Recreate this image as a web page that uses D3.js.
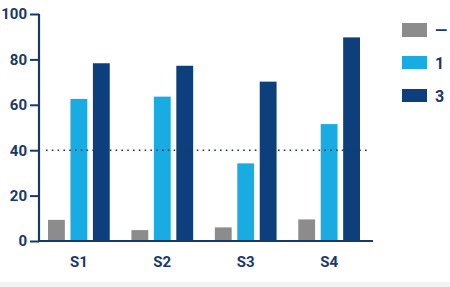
<!DOCTYPE html>
<html><head><meta charset="utf-8">
<script src="https://cdn.jsdelivr.net/npm/d3@7"></script>
<style>
html,body{margin:0;padding:0;background:#fff;overflow:hidden;}
svg{display:block;font-family:Roboto, "Noto Sans", sans-serif;}
</style></head>
<body>
<svg id="c" width="450" height="287"></svg>
<script>
const categories = ["S1","S2","S3","S4"];
const seriesNames = ["—","1","3"];
const seriesGray = [9.3, 4.8, 6.0, 9.5];
const seriesLight = [62.6, 63.6, 34.2, 51.5];
const seriesDark = [78.3, 77.2, 70.2, 89.7];
const yTicks = [0,20,40,60,80,100];
const refValue = 40;
const colors = ["#8c8c8c","#19ace3","#0c3f7c"];
const axisColor = "#17396b";

const series = [seriesGray, seriesLight, seriesDark];
const svg = d3.select("#c");
svg.append("rect").attr("x",0).attr("y",282).attr("width",450).attr("height",5).attr("fill","#f3f3f5");

const x0 = 39, x1 = 373, yTop = 14, yBot = 241;
const y = d3.scaleLinear().domain([0,100]).range([yBot,yTop]);
const xb = d3.scaleBand().domain(categories).range([x0,369]).paddingInner(0.26).paddingOuter(0.108);
const xs = d3.scaleBand().domain(d3.range(3)).range([0,xb.bandwidth()]).paddingInner(0.25);

// bars
series.forEach((vals,si)=>{
  svg.append("g").selectAll("rect").data(vals).join("rect")
    .attr("x",(d,i)=>xb(categories[i])+xs(si))
    .attr("y",d=>y(d))
    .attr("width",xs.bandwidth())
    .attr("height",d=>yBot-y(d))
    .attr("fill",colors[si]);
});

// reference dotted line
svg.append("line").attr("x1",46).attr("x2",370).attr("y1",y(refValue)).attr("y2",y(refValue))
  .attr("stroke",axisColor).attr("stroke-width",1.6).attr("stroke-dasharray","1.6 4.2");

// y axis
const ya = svg.append("g").attr("transform",`translate(${x0},0)`)
  .call(d3.axisLeft(y).tickValues(yTicks).tickSize(9).tickPadding(3));
ya.select(".domain").attr("stroke",axisColor).attr("stroke-width",2.2).attr("d",`M0,${yTop}H0V${yBot}`);
ya.selectAll(".tick line").attr("stroke",axisColor).attr("stroke-width",2);
ya.selectAll(".tick text").attr("fill",axisColor).attr("font-size",15).attr("font-weight","bold")
  .attr("font-family","Roboto, sans-serif");

// x axis
const xa = svg.append("g").attr("transform",`translate(0,${yBot})`)
  .call(d3.axisBottom(xb).tickSize(0).tickPadding(15));
xa.select(".domain").attr("stroke",axisColor).attr("stroke-width",2.2).attr("d",`M${x0},0H${x1}`);
xa.selectAll(".tick text").attr("fill",axisColor).attr("font-size",15).attr("font-weight","bold")
  .attr("font-family","Roboto, sans-serif");

// legend
const lg = svg.append("g").selectAll("g").data(seriesNames).join("g")
  .attr("transform",(d,i)=>`translate(402,${23+i*33})`);
lg.append("rect").attr("width",25).attr("height",(d,i)=>i===0?14:13).attr("fill",(d,i)=>colors[i]);
lg.append("text").attr("x",33).attr("y",7).attr("dy","0.36em").text(d=>d)
  .attr("fill",axisColor).attr("font-size",16).attr("font-weight","bold");
</script>
</body></html>
